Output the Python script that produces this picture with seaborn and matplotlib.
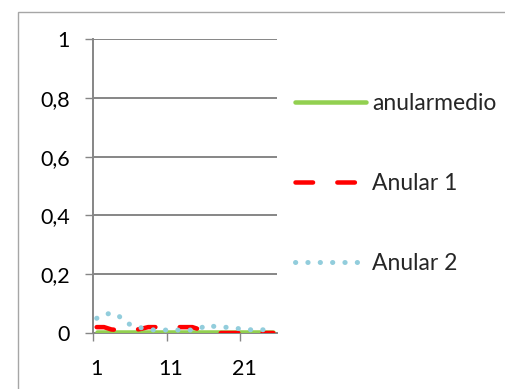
import numpy as np
import pandas as pd
import matplotlib
matplotlib.use("Agg")
import matplotlib.pyplot as plt
from matplotlib.patches import Rectangle
import seaborn as sns

# Series values per category (1..25)
categories = list(range(1, 26))
anularmedio = [0.003] * 25
anular_1 = [0.020, 0.020, 0.012, 0.010, 0.010, 0.010, 0.014, 0.020, 0.020, 0.020,
            0.020, 0.020, 0.020, 0.020, 0.012, 0.005, 0.000, 0.000, 0.000, 0.000,
            0.000, 0.000, 0.000, 0.000, 0.000]
anular_2 = [0.050, 0.062, 0.068, 0.058, 0.035, 0.024, 0.018, 0.012, 0.010, 0.010,
            0.010, 0.010, 0.010, 0.010, 0.015, 0.028, 0.022, 0.020, 0.019, 0.016,
            0.012, 0.011, 0.011, 0.011, 0.011]
y_ticks = [0, 0.2, 0.4, 0.6, 0.8, 1.0]
y_tick_labels = ["0", "0,2", "0,4", "0,6", "0,8", "1"]
x_tick_labels = ["1", "11", "21"]

sns.set_style("white")
plt.rcParams["font.family"] = ["Lato", "DejaVu Sans"]

W, H = 505, 389
FS = 15.5
LFS = 16.5
fig = plt.figure(figsize=(W / 100, H / 100), dpi=100)
ax = fig.add_axes([93 / W, 1 - 333 / H, (277 - 93) / W, (333 - 39) / H])

grid_c = "#868686"
lw_px = 4.5
lw = lw_px * 72 / 100

df = pd.DataFrame({"cat": categories, "anularmedio": anularmedio,
                   "Anular 1": anular_1, "Anular 2": anular_2})

sns.lineplot(data=df, x="cat", y="anularmedio", ax=ax, color="#92D050",
             linewidth=lw, solid_capstyle="round", label="anularmedio", zorder=3)
sns.lineplot(data=df, x="cat", y="Anular 1", ax=ax, color="#FF0000",
             linewidth=lw, linestyle=(0, (3.9, 5.4)), dash_capstyle="round",
             label="Anular 1", zorder=4)
sns.lineplot(data=df, x="cat", y="Anular 2", ax=ax, color="#92CDDC",
             linewidth=5.0 * 72 / 100, linestyle=(0, (0.05, 2.42)),
             dash_capstyle="round", label="Anular 2", zorder=5)

ax.set_xlim(0.5, 25.5)
ax.set_ylim(0, 1)
ax.set_xlabel("")
ax.set_ylabel("")

# horizontal gridlines
for v in y_ticks:
    ax.axhline(v, color=grid_c, linewidth=1.4, zorder=1)

for s in ["top", "right"]:
    ax.spines[s].set_visible(False)
ax.spines["left"].set_color(grid_c)
ax.spines["left"].set_linewidth(1.4)
ax.spines["bottom"].set_color(grid_c)
ax.spines["bottom"].set_linewidth(1.4)

ax.set_yticks(y_ticks)
ax.set_yticklabels(y_tick_labels)
ax.tick_params(axis="y", length=5.8, width=1.0, color=grid_c, pad=11,
               labelsize=FS, labelcolor="black", direction="out", left=True)

ax.set_xticks([0.5, 10.5, 20.5])
ax.set_xticklabels(["", "", ""])
ax.set_xticks([1, 11, 21], minor=True)
ax.set_xticklabels(x_tick_labels, minor=True)
ax.tick_params(axis="x", which="major", length=5.8, width=1.0, color=grid_c,
               direction="out", bottom=True)
ax.tick_params(axis="x", which="minor", length=0, pad=19, labelsize=FS,
               labelcolor="black", bottom=True)

ax.legend(loc="upper left", bbox_to_anchor=(295 / W, 1 - 93.5 / H),
          bbox_transform=fig.transFigure, frameon=False, fontsize=LFS,
          handlelength=3.1, handletextpad=0.26, labelspacing=2.56,
          borderpad=0, borderaxespad=0)

# chart area border
fig.patches.append(Rectangle((18 / W, -0.2), 1.0, 1.2 - 11.5 / H,
                             transform=fig.transFigure, fill=False,
                             edgecolor="#a6a6a6", linewidth=1.0))

fig.savefig("out.png", dpi=100)
